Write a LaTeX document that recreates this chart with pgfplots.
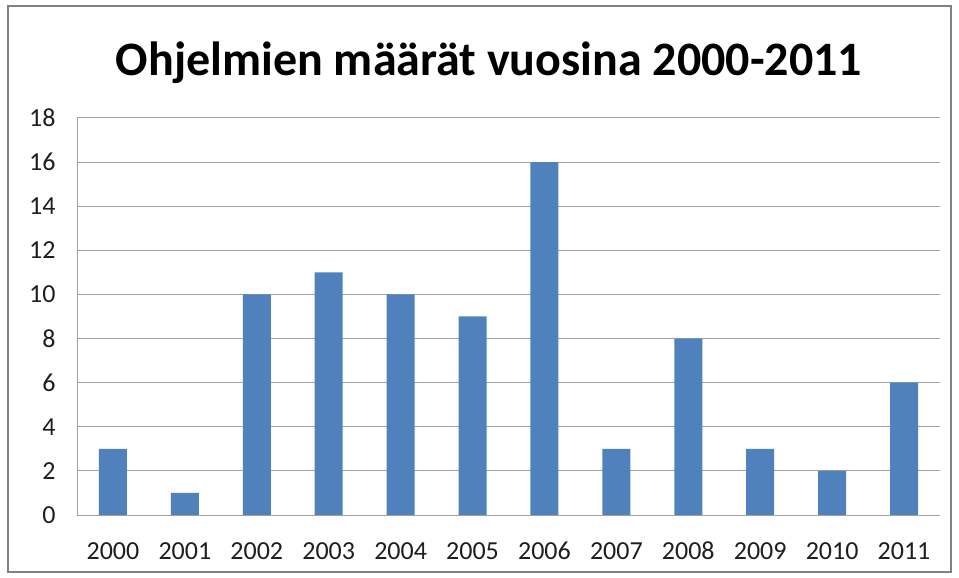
\documentclass[border=0pt]{standalone}
\usepackage{pgfplots}
\pgfplotsset{compat=1.18}
\usepackage{fontspec}
\setmainfont{Carlito}
\definecolor{barblue}{RGB}{79,129,189}
\definecolor{gridgray}{RGB}{160,160,160}
\definecolor{framegray}{RGB}{130,130,130}
\definecolor{ticktext}{RGB}{30,30,30}

\begin{document}
\begin{tikzpicture}
% page size in image pixels (1px = 1bp)
\path (0bp,0bp) rectangle (959bp,578bp);
\draw[framegray, line width=1.5bp] (8bp,6bp) rectangle (951bp,572bp);
\node[anchor=base, font=\fontsize{48bp}{54bp}\selectfont\bfseries]
  at (489bp,502bp) {Ohjelmien määrät vuosina 2000-2011};
\begin{axis}[
  at={(77bp,63bp)}, anchor=south west,
  width=863bp, height=397bp, scale only axis,
  xmin=-0.5, xmax=11.5, ymin=0, ymax=18,
  ytick distance=2,
  xtick={0,...,11},
  xticklabels={2000,2001,2002,2003,2004,2005,2006,2007,2008,2009,2010,2011},
  axis lines=left, axis line style={gridgray, line width=1bp, -},
  ymajorgrids, grid style={gridgray, line width=1bp},
  major tick length=0pt,
  tick label style={font=\fontsize{26bp}{30bp}\selectfont, text=ticktext},
  /pgf/number format/assume math mode=true,
  yticklabel style={xshift=-18bp},
  xticklabel style={anchor=base, yshift=-44bp},
  ybar, bar width=28bp, bar shift=0pt,
]
\addplot[fill=barblue, draw=none] coordinates {
  (0,3) (1,1) (2,10) (3,11) (4,10) (5,9)
  (6,16) (7,3) (8,8) (9,3) (10,2) (11,6)
};
\end{axis}
\end{tikzpicture}
\end{document}
